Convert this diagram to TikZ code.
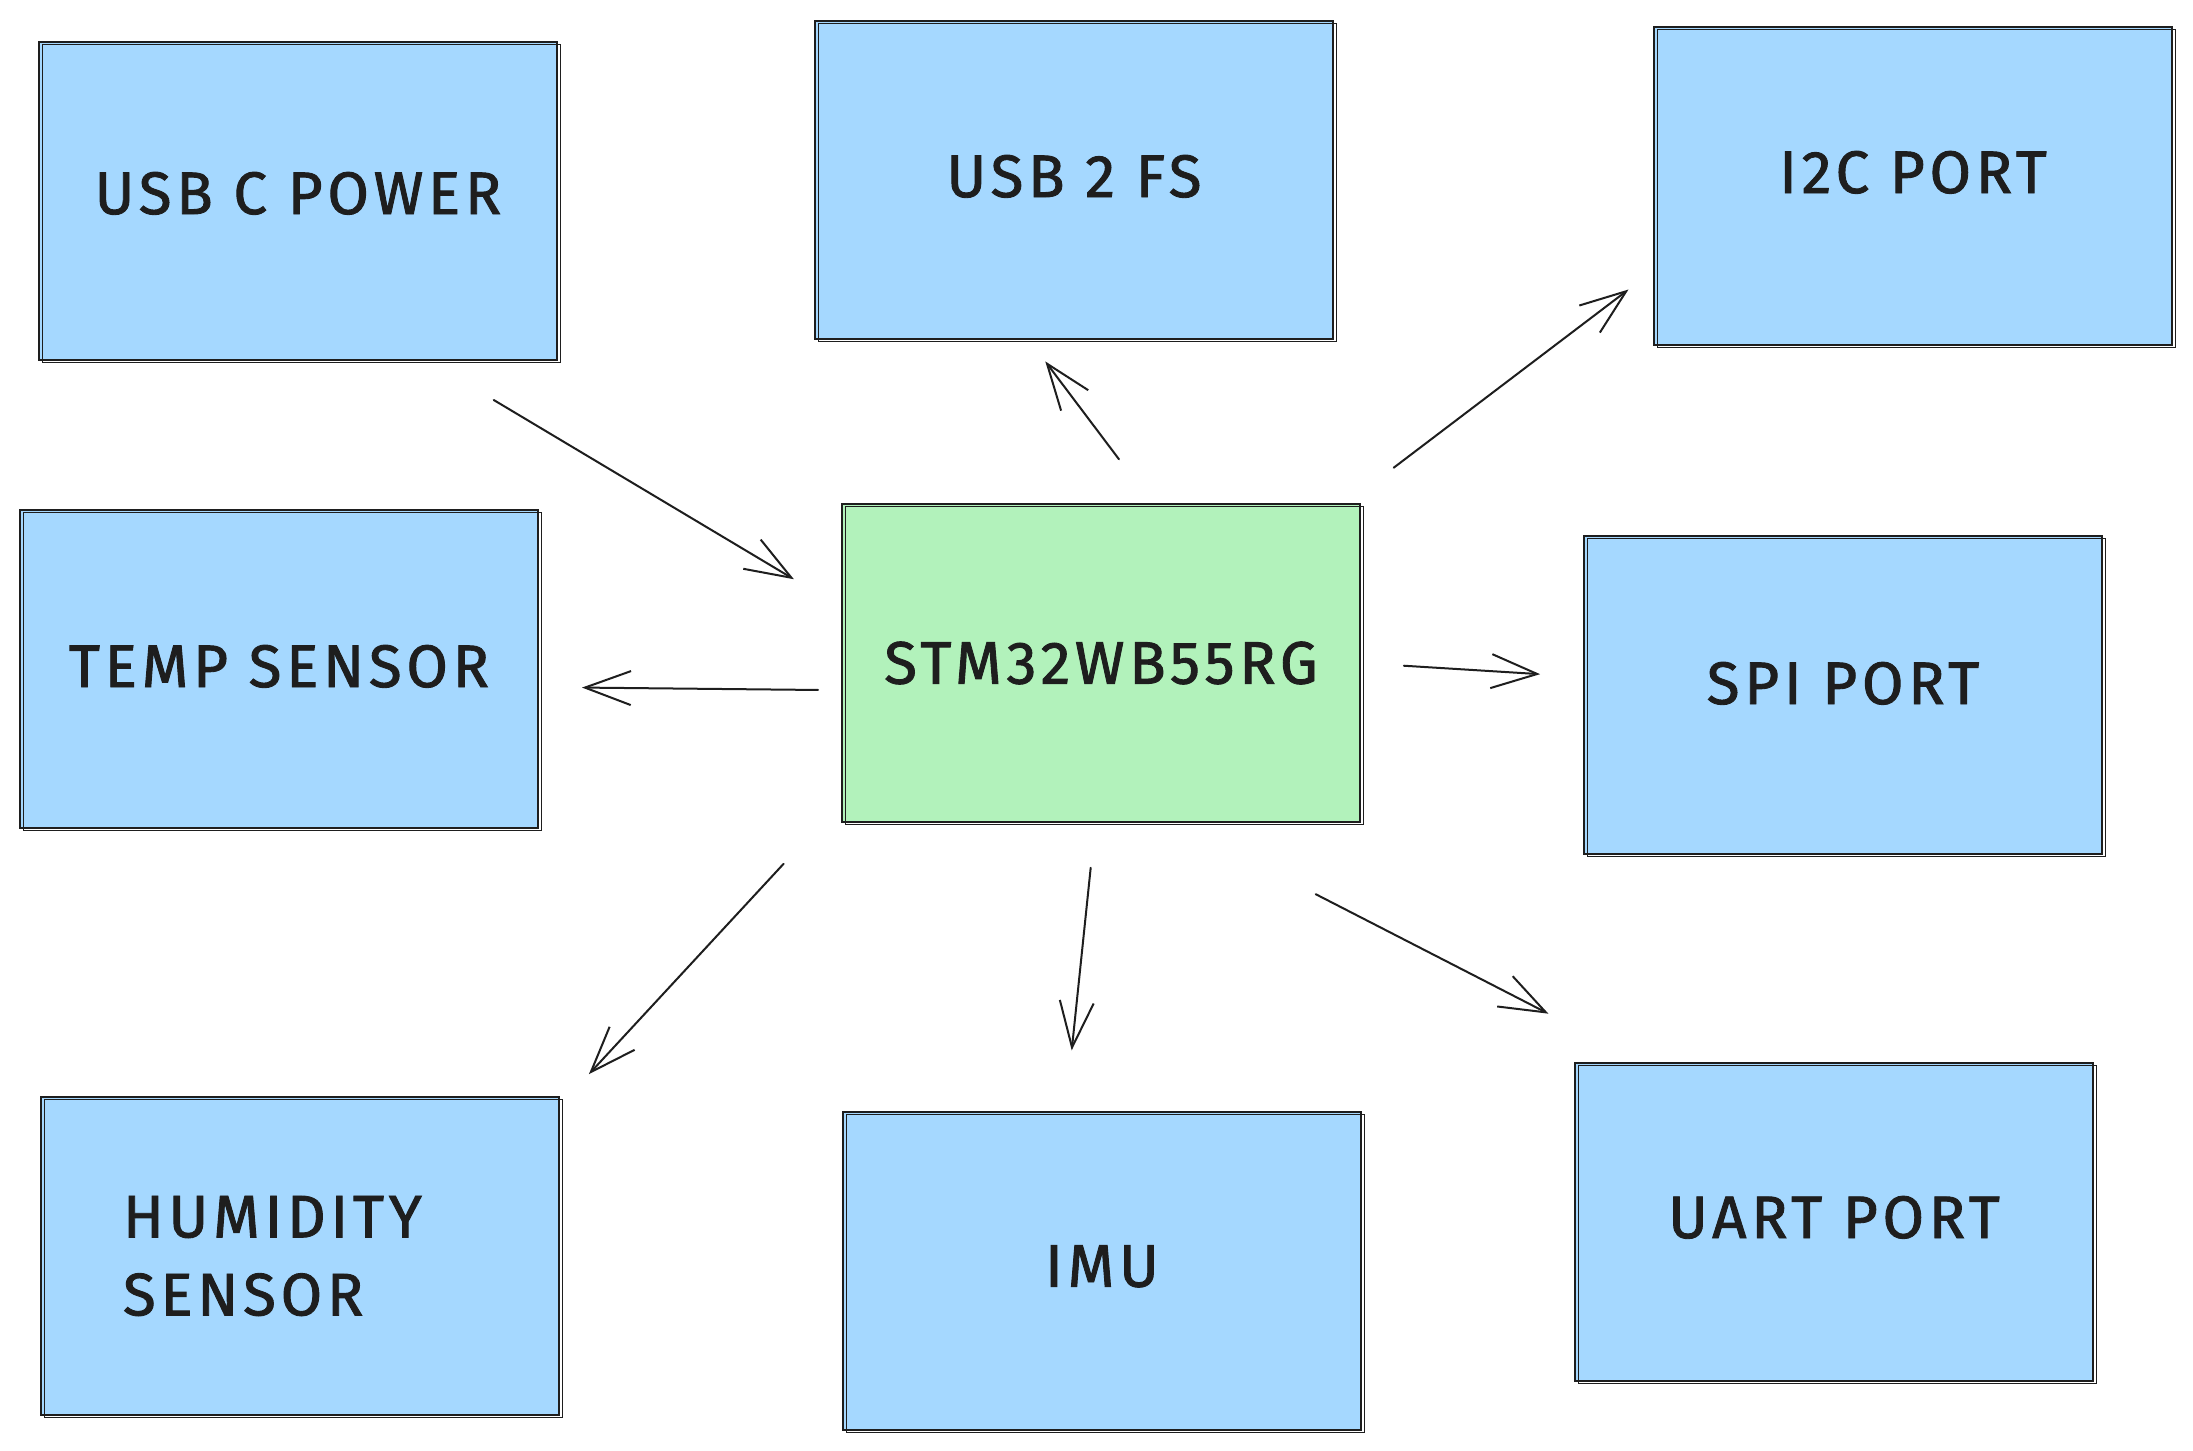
\documentclass[tikz,border=0pt]{standalone}
\usepackage{fontspec}
\setmainfont{Fira Sans}[LetterSpace=8, FakeBold=1.5]
\usetikzlibrary{arrows.meta}
\definecolor{ink}{HTML}{1E1E1E}
\definecolor{skyfill}{HTML}{A5D8FF}
\definecolor{mintfill}{HTML}{B2F2BB}
\tikzset{
  basic/.style = {draw=ink, line width=1pt, rectangle, text=ink,
                  minimum width=259pt, minimum height=159pt,
                  inner sep=0pt, outer sep=0pt,
                  font=\fontsize{30}{39}\selectfont,
                  postaction={draw=ink, line width=0.5pt,
                              transform canvas={shift={(1.5pt,-1.2pt)}}}},
  port/.style   = {basic, fill=skyfill},
  mcu/.style    = {basic, fill=mintfill},
  lifted/.style = {text depth=#1},
  link/.style   = {->, draw=ink, line width=1pt}
}

\begin{document}
\begin{tikzpicture}[
  x=0.5pt, y=-0.5pt,
  >={Straight Barb[length=23pt,width=17pt]},
  line cap=round]
\useasboundingbox (0,0) rectangle (2193,1450);

\node[port, lifted=8pt]  (pwr)   at (298,201)   {USB C POWER};
\node[port, lifted=4pt]  (usbfs) at (1074,180)  {USB 2 FS};
\node[port, lifted=14pt] (i2c)   at (1913,186)  {I2C PORT};
\node[port, lifted=3pt]  (temp)  at (279,669)   {TEMP SENSOR};
\node[mcu]               (stm)   at (1101,663)  {STM32WB55RG};
\node[port, lifted=12pt] (spi)   at (1843,695)  {SPI PORT};
\node[port, text width=177pt, align=left] (hum) at (300,1256) {HUMIDITY\\SENSOR};
\node[port, lifted=5pt]  (imu)   at (1102,1271) {IMU};
\node[port, lifted=5pt]  (uart)  at (1834,1222) {UART PORT};

\draw[link, shorten <=39pt, shorten >=28pt] (pwr.-51) -- (stm.168);

\foreach \dst/\from/\to/\sa/\sb in {
    usbfs/72/-106/28/14,
    i2c/33/-162/30/16,
    temp/-174/-4/12/22,
    spi/0/176/22/22,
    hum/-152/30/43/22,
    imu/-92/103/23/31,
    uart/-65/140/79/54}
  \draw[link, shorten <=\sa pt, shorten >=\sb pt] (stm.\from) -- (\dst.\to);
\end{tikzpicture}
\end{document}
